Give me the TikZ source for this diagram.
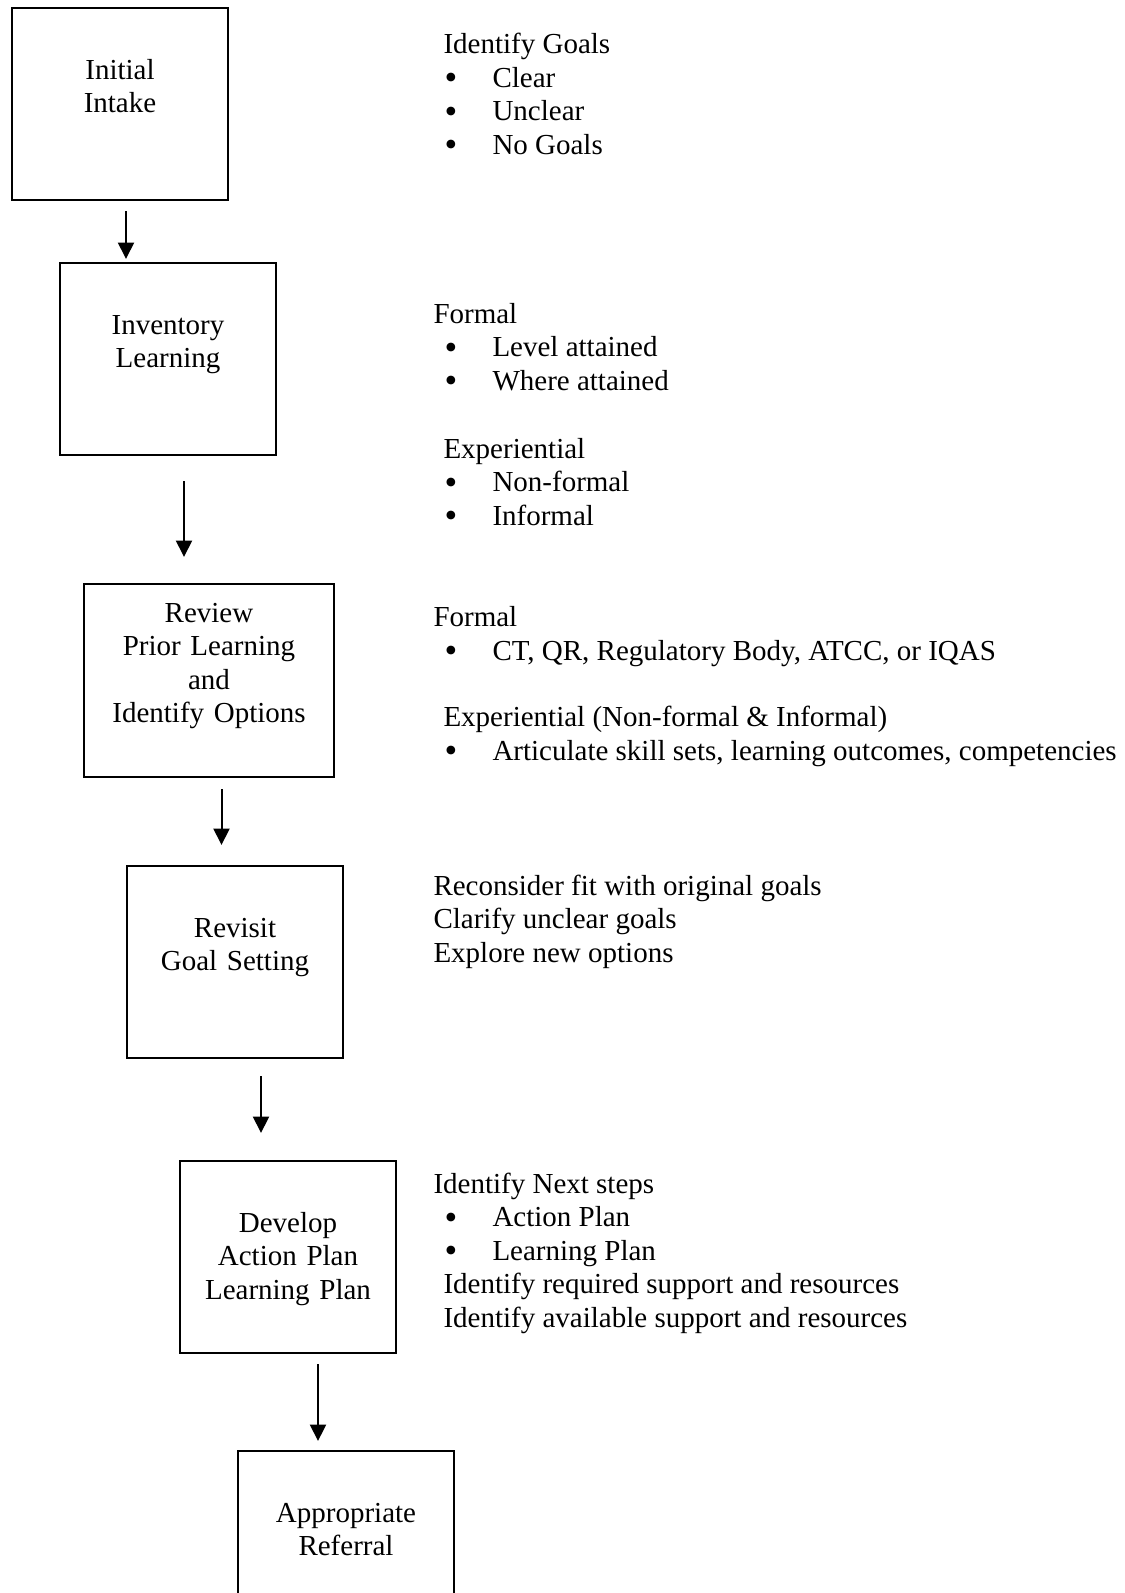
\documentclass[tikz,border=0pt]{standalone}
\usepackage{fontspec}
\setmainfont{Liberation Serif}
\usetikzlibrary{positioning, arrows.meta}
\newcommand{\pitem}[1]{\hspace*{4.4pt}\makebox[19.2pt][l]{\raisebox{-1pt}{\scalebox{1.25}{\textbullet}}}#1}
\newcommand{\phead}[1]{\hspace*{4pt}#1}

\begin{document}
\begin{tikzpicture}
    [
        x=0.4pt, y=-0.4pt, >={Triangle[width=6.4pt, length=6.6pt]},
        every node/.style={font=\fontsize{11.6pt}{13.4pt}\selectfont, inner sep=0pt},
        step_box/.style={rectangle, draw=black, line width=0.8pt, anchor=north west, align=center, text width=86.4pt, text height=28.4pt, text depth=48.4pt},
        wide_box/.style={step_box, text width=100pt, text height=15.2pt, text depth=62pt},
        note_text/.style={anchor=base west, align=left},
    ]
        \useasboundingbox (0,0) rectangle (1125,1593);
        % steps
        \node[step_box] (intake) at (11,7) {Initial\\Intake} ;
        \node[step_box] (inventory) at (59,262) {Inventory\\Learning} ;
        \node[wide_box] (review) at (83,583) {Review\\Prior Learning\\and\\Identify Options} ;
        \node[step_box] (revisit) at (126,865) {Revisit\\Goal Setting} ;
        \node[step_box] (develop) at (179,1160) {Develop\\Action Plan\\Learning Plan} ;
        \node[step_box] (referral) at (237,1450) {Appropriate\\Referral} ;
        % notes (placed by the baseline of their last line)
        \node[note_text] (goals) at (433,154) {\phead{Identify Goals}\\\pitem{Clear}\\\pitem{Unclear}\\\pitem{No Goals}} ;
        \node[note_text] (formal_a) at (433,390) {Formal\\\pitem{Level attained}\\\pitem{Where attained}} ;
        \node[note_text] (exper_a) at (433,525) {\phead{Experiential}\\\pitem{Non-formal}\\\pitem{Informal}} ;
        \node[note_text] (formal_b) at (433,660) {Formal\\\pitem{CT, QR, Regulatory Body, ATCC, or IQAS}} ;
        \node[note_text] (exper_b) at (433,760) {\phead{Experiential (Non-formal \& Informal)}\\\pitem{Articulate skill sets, learning outcomes, competencies}} ;
        \node[note_text] (refit) at (433,962) {Reconsider fit with original goals\\Clarify unclear goals\\Explore new options} ;
        \node[note_text] (next) at (433,1327) {Identify Next steps\\\pitem{Action Plan}\\\pitem{Learning Plan}\\\phead{Identify required support and resources}\\\phead{Identify available support and resources}} ;
        % arrow ends
        \coordinate (a1s) at (126,211) ;
        \coordinate (a1e) at (126,259) ;
        \coordinate (a2s) at (184,481) ;
        \coordinate (a2e) at (184,557) ;
        \coordinate (a3s) at (221.5,789) ;
        \coordinate (a3e) at (221.5,845) ;
        \coordinate (a4s) at (261,1076) ;
        \coordinate (a4e) at (261,1133) ;
        \coordinate (a5s) at (318,1364) ;
        \coordinate (a5e) at (318,1441) ;
        \draw[->, line width=0.8pt, color=black] (a1s) -- (a1e) ;
        \draw[->, line width=0.8pt, color=black] (a2s) -- (a2e) ;
        \draw[->, line width=0.8pt, color=black] (a3s) -- (a3e) ;
        \draw[->, line width=0.8pt, color=black] (a4s) -- (a4e) ;
        \draw[->, line width=0.8pt, color=black] (a5s) -- (a5e) ;
    \end{tikzpicture}
\end{document}
